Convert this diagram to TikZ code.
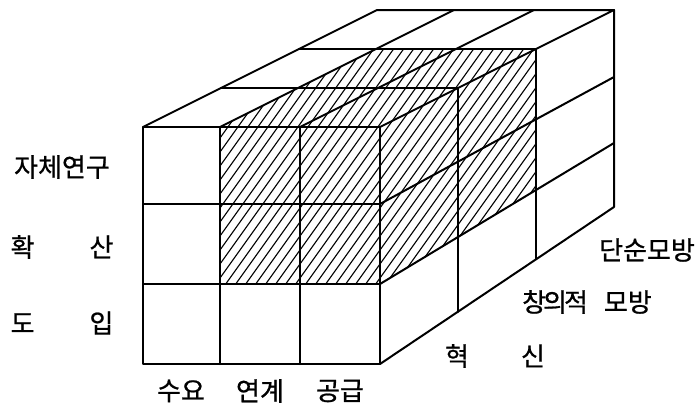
\documentclass[tikz,border=0pt]{standalone}
\usepackage{fontspec}
\newfontfamily\kr{Noto Sans CJK KR}[FakeBold=0.8]
\begin{document}
\begin{tikzpicture}[x=1pt,y=-1pt, line join=round, line cap=round,
  edge/.style={line width=2pt},
  hatch/.style={line width=1.1pt},
  lbl/.style={font=\kr\fontsize{26}{26}\selectfont, inner sep=0pt}]
\useasboundingbox[fill=white] (0,0) rectangle (699,418);
% hatching of the shaded block
\begin{scope}
  \clip (220,284) -- (220,127) -- (376,49) -- (536,49) -- (536,190) -- (380,284) -- cycle;
  \foreach \x in {0,10,...,700} {
    \draw[hatch] (\x,320) -- ++(200,-280);
  }
\end{scope}
% front face
\draw[edge] (143,127) rectangle (380,364);
\draw[edge] (220,127) -- (220,364);
\draw[edge] (300,127) -- (300,364);
\draw[edge] (143,204) -- (380,204);
\draw[edge] (143,284) -- (380,284);
% top face
\draw[edge] (143,127) -- (377,10) -- (614,10) -- (380,127);
\draw[edge] (220,127) -- (454,10);
\draw[edge] (300,127) -- (534,10);
\draw[edge] (221,88) -- (458,88);
\draw[edge] (299,49) -- (536,49);
% right face
\draw[edge] (614,10) -- (614,207) -- (380,364);
\draw[edge] (380,204) -- (614,77);
\draw[edge] (380,284) -- (614,143);
\draw[edge] (458,88) -- (458,312);
\draw[edge] (536,49) -- (536,259);
% labels
\node[lbl] (jache) at (62,167) {자체연구};
\node[lbl] (hwaksan) at (62,247) {확\hspace{55pt}산};
\node[lbl] (doip) at (62,323) {도\hspace{55pt}입};
\node[lbl] (suyo) at (181,391) {수요};
\node[lbl] (yeongye) at (260,391) {연계};
\node[lbl] (gonggeup) at (340,391) {공급};
\node[lbl] (dansun) at (647,250) {단순모방};
\node[lbl] (changui) at (587,302) {창\hspace{-3pt}의\hspace{-3pt}적\hspace{16pt}모방};
\node[lbl] (hyeoksin) at (495,356) {혁\hspace{52pt}신};
\end{tikzpicture}
\end{document}
